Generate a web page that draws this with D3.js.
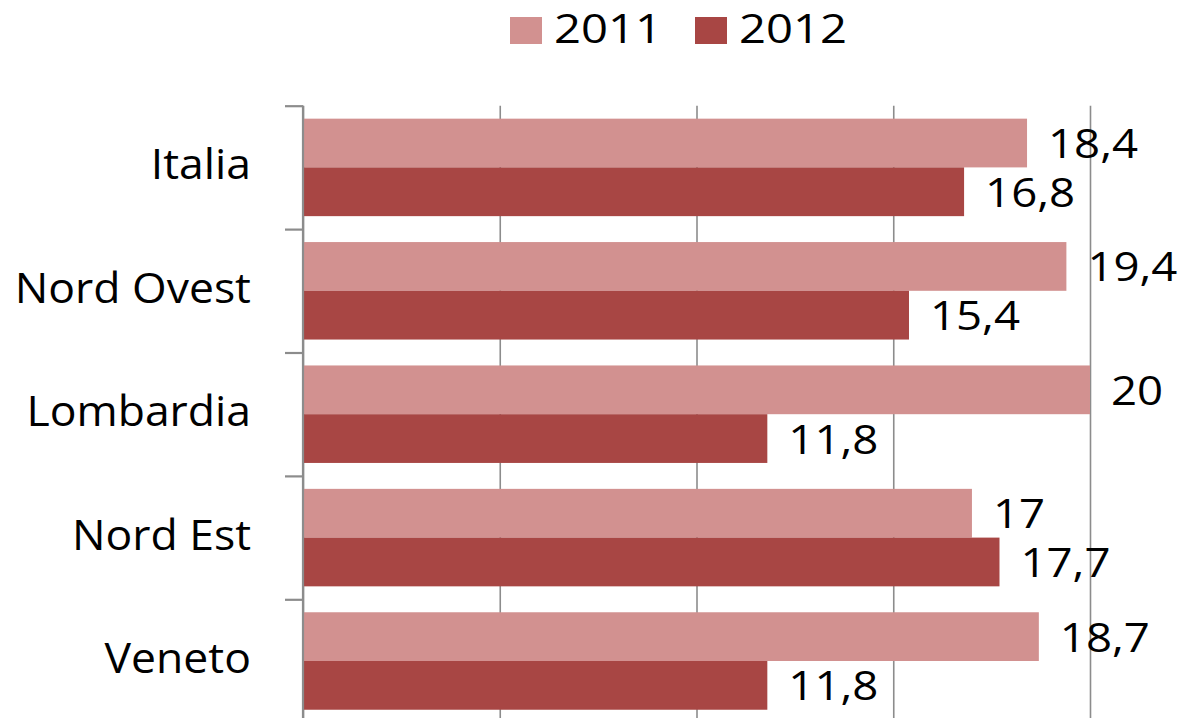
<!DOCTYPE html>
<html>
<head>
<meta charset="utf-8">
<script src="https://cdnjs.cloudflare.com/ajax/libs/d3/7.8.5/d3.min.js"></script>
<style>
  html, body { margin: 0; padding: 0; background: #ffffff; }
  svg { display: block; }
  text { font-family: "Open Sans", sans-serif; fill: #000; }
</style>
</head>
<body>
<svg id="chart" width="1183" height="718"></svg>
<script>
const categories = ["Italia", "Nord Ovest", "Lombardia", "Nord Est", "Veneto"];
const series = ["2011", "2012"];
const values2011 = [18.4, 19.4, 20, 17, 18.7];
const values2012 = [16.8, 15.4, 11.8, 17.7, 11.8];
const valueLabels2011 = ["18,4", "19,4", "20", "17", "18,7"];
const valueLabels2012 = ["16,8", "15,4", "11,8", "17,7", "11,8"];
const xTicks = [0, 5, 10, 15, 20];
const colors = ["#D29190", "#A84644"];

(function () {
const svg = d3.select("#chart");
const pLeft = 303, pRight = 1090, pTop = 105.7, pBottom = 722.7;

const x = d3.scaleLinear().domain([0, 20]).range([pLeft, pRight]);
const y = d3.scaleBand().domain(categories).range([pTop, pBottom])
  .paddingInner(0.21).paddingOuter(0.105);
const yInner = d3.scaleBand().domain(series).range([0, y.bandwidth()]);
const color = d3.scaleOrdinal().domain(series).range(colors);
const yBounds = d3.scaleLinear().domain([0, categories.length]).range([pTop, pBottom]);

// vertical gridlines
const grid = svg.append("g")
  .attr("transform", `translate(0,${pBottom})`)
  .call(d3.axisTop(x).tickValues(xTicks).tickSize(pBottom - pTop).tickFormat(""));
grid.select(".domain").remove();
grid.selectAll(".tick line").attr("stroke", "#8c8c8c").attr("stroke-width", 1.6);

// data table
const rows = categories.map((c, i) => ({
  cat: c,
  vals: [
    { s: "2011", v: values2011[i], l: valueLabels2011[i] },
    { s: "2012", v: values2012[i], l: valueLabels2012[i] }
  ]
}));

const groups = svg.append("g").selectAll("g").data(rows).join("g")
  .attr("transform", d => `translate(0,${y(d.cat)})`);

groups.selectAll("rect").data(d => d.vals).join("rect")
  .attr("x", x(0) + 1)
  .attr("y", d => yInner(d.s))
  .attr("width", d => x(d.v) - x(0) - 1)
  .attr("height", yInner.bandwidth())
  .attr("fill", d => color(d.s));

groups.selectAll("text.val").data(d => d.vals).join("text")
  .attr("class", "val")
  .attr("transform", d => `translate(${x(d.v) + 21},${yInner(d.s) + yInner.bandwidth() / 2 + 15}) scale(1.14,1)`)
  .attr("font-size", 40)
  .text(d => d.l);

// y axis with ticks between categories
const yAx = svg.append("g")
  .attr("transform", `translate(${pLeft},0)`)
  .call(d3.axisLeft(yBounds).ticks(categories.length).tickSize(18).tickSizeOuter(0).tickFormat(""));
yAx.select(".domain").attr("stroke", "#8c8c8c").attr("stroke-width", 2.2)
  .attr("d", `M0,${pTop}V${pBottom}`);
yAx.selectAll(".tick line").attr("stroke", "#8c8c8c").attr("stroke-width", 2.2);

// category labels
svg.append("g").selectAll("text").data(categories).join("text")
  .attr("transform", d => `translate(251,${y(d) + y.bandwidth() / 2 + 12}) scale(1.06,1)`)
  .attr("text-anchor", "end")
  .attr("font-size", 42)
  .text(d => d);

// legend
const legendX = [510, 695];
const leg = svg.append("g").selectAll("g").data(series).join("g")
  .attr("transform", (d, i) => `translate(${legendX[i]},0)`);
leg.append("rect")
  .attr("x", 0).attr("y", 17).attr("width", 32).attr("height", 27)
  .attr("fill", d => color(d));
leg.append("text")
  .attr("transform", "translate(44,43) scale(1.18,1)")
  .attr("font-size", 40)
  .text(d => d);
})();
</script>
</body>
</html>
